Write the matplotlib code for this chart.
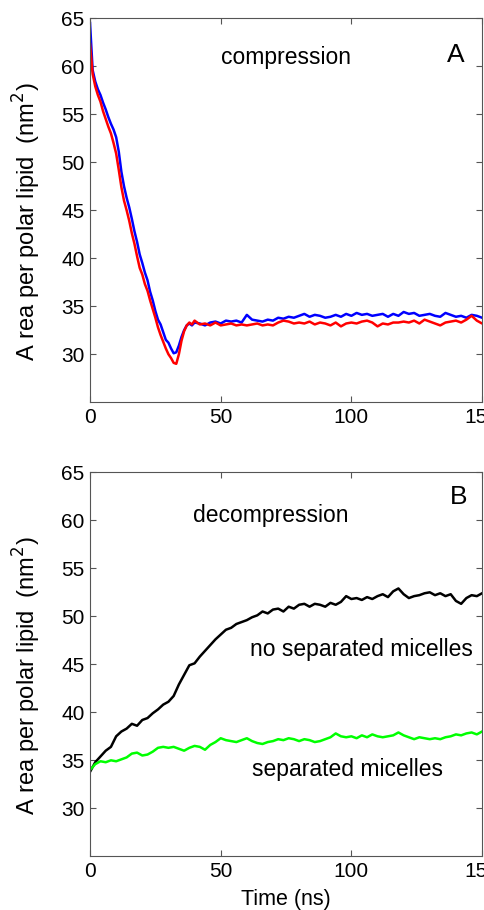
# Area per polar lipid during compression (A) and decompression (B)
import matplotlib.pyplot as plt
import numpy as np

plt.rcParams['font.family'] = ['Liberation Sans', 'DejaVu Sans']

# panel A: time in ns (dense at start, then every 2 ns)
t_a = list(range(0, 41)) + list(range(42, 153, 2))
blue_a = [64.5, 59.6, 58.4, 57.6, 57.0, 56.2, 55.5, 54.7, 54.0, 53.4,
          52.6, 51.1, 49.0, 47.5, 46.3, 45.3, 44.1, 42.8, 41.7, 40.4,
          39.5, 38.5, 37.7, 36.5, 35.6, 34.5, 33.6, 33.1, 32.3, 31.5,
          31.2, 30.6, 30.1, 30.2, 30.9, 31.8, 32.5, 33.0, 33.2, 33.0,
          33.3,
          33.2, 33.0, 33.3, 33.4, 33.2, 33.5, 33.4, 33.5, 33.3, 34.1,
          33.6, 33.5, 33.4, 33.6, 33.5, 33.8, 33.7, 33.9, 33.8, 34.0,
          34.2, 33.9, 34.1, 34.0, 33.8, 33.9, 34.1, 33.9, 34.2, 34.0,
          34.3, 34.1, 34.2, 34.0, 34.1, 34.2, 33.9, 34.2, 34.0, 34.4,
          34.2, 34.3, 34.0, 34.1, 34.2, 34.0, 33.9, 34.3, 34.1, 33.9,
          34.0, 33.8, 34.1, 34.0, 33.8, 33.6]
red_a = [62.3, 59.2, 57.9, 57.0, 56.3, 55.3, 54.5, 53.7, 53.0, 52.0,
         50.9, 49.2, 47.4, 46.0, 45.0, 43.9, 42.6, 41.5, 40.2, 39.0,
         38.3, 37.3, 36.6, 35.6, 34.7, 33.8, 32.8, 32.0, 31.3, 30.6,
         30.0, 29.6, 29.1, 29.0, 30.0, 31.4, 32.4, 33.0, 33.3, 33.1,
         33.5,
         33.1, 33.2, 33.0, 33.3, 33.0, 33.1, 33.2, 33.0, 33.1, 33.0,
         33.1, 33.2, 33.0, 33.1, 33.0, 33.3, 33.5, 33.4, 33.2, 33.3,
         33.2, 33.4, 33.1, 33.3, 33.2, 33.0, 33.3, 32.9, 33.2, 33.3,
         33.2, 33.4, 33.5, 33.3, 32.9, 33.2, 33.1, 33.3, 33.3, 33.4,
         33.3, 33.5, 33.2, 33.6, 33.4, 33.2, 33.0, 33.3, 33.4, 33.5,
         33.3, 33.6, 34.0, 33.5, 33.2, 33.4]

# panel B: every 2 ns
t_b = list(range(0, 151, 2))
black_b = [33.8, 34.8, 35.4, 36.0, 36.4, 37.5, 38.0, 38.3, 38.8, 38.6,
           39.2, 39.4, 39.9, 40.3, 40.8, 41.1, 41.7, 42.9, 43.9, 44.9,
           45.1, 45.8, 46.4, 47.0, 47.6, 48.1, 48.6, 48.8, 49.2, 49.4,
           49.6, 49.9, 50.1, 50.5, 50.3, 50.7, 50.8, 50.5, 51.0, 50.8,
           51.2, 51.3, 51.0, 51.3, 51.2, 51.0, 51.4, 51.2, 51.5, 52.1,
           51.8, 51.9, 51.7, 52.0, 51.8, 52.1, 52.3, 52.0, 52.6, 52.9,
           52.3, 51.9, 52.1, 52.2, 52.4, 52.5, 52.2, 52.4, 52.1, 52.3,
           51.6, 51.3, 51.9, 52.2, 52.1, 52.4]
green_b = [34.0, 34.6, 34.9, 34.8, 35.0, 34.9, 35.1, 35.3, 35.7, 35.8,
           35.5, 35.6, 35.9, 36.3, 36.4, 36.3, 36.4, 36.2, 36.0, 36.3,
           36.5, 36.4, 36.1, 36.6, 36.9, 37.3, 37.1, 37.0, 36.9, 37.1,
           37.3, 37.0, 36.8, 36.7, 36.9, 37.0, 37.2, 37.1, 37.3, 37.2,
           37.0, 37.2, 37.1, 36.9, 37.0, 37.2, 37.4, 37.8, 37.5, 37.4,
           37.5, 37.3, 37.6, 37.4, 37.7, 37.5, 37.4, 37.5, 37.6, 37.9,
           37.6, 37.4, 37.2, 37.4, 37.3, 37.2, 37.3, 37.2, 37.4, 37.5,
           37.7, 37.6, 37.8, 37.9, 37.7, 38.0]

fig = plt.figure(figsize=(4.84, 9.10), dpi=100)
ax1 = fig.add_axes([0.186, 0.558, 0.81, 0.422])
ax2 = fig.add_axes([0.186, 0.059, 0.81, 0.422])

ax1.plot(t_a, blue_a, color='#0000ff', lw=1.8)
ax1.plot(t_a, red_a, color='#ff0000', lw=1.8)
ax2.plot(t_b, black_b, color='black', lw=1.8)
ax2.plot(t_b, green_b, color='#00ff00', lw=1.8)

for ax in (ax1, ax2):
    ax.set_xlim(0, 150)
    ax.set_ylim(25, 65)
    ax.set_xticks([0, 50, 100, 150])
    ax.set_yticks(np.arange(30, 66, 5))
    ax.tick_params(direction='in', top=True, right=True, labelsize=15,
                   length=4, color='#555555', pad=4)
    for s in ax.spines.values():
        s.set_color('#555555')
    ax.set_ylabel('A rea per polar lipid  (nm$^2$)', fontsize=17)
    ax.yaxis.set_label_coords(-0.12, 0.47)

ax1.text(75, 60.9, 'compression', fontsize=16.5, ha='center', va='center')
ax1.text(140, 61.2, 'A', fontsize=19, ha='center', va='center')
ax2.text(69, 60.5, 'decompression', fontsize=16.5, ha='center', va='center')
ax2.text(141, 62.4, 'B', fontsize=19, ha='center', va='center')
ax2.text(104, 46.5, 'no separated micelles', fontsize=16.5, ha='center', va='center')
ax2.text(98.5, 34.0, 'separated micelles', fontsize=16.5, ha='center', va='center')
ax2.set_xlabel('Time (ns)', fontsize=15.5, labelpad=6)

fig.savefig('out.png')
